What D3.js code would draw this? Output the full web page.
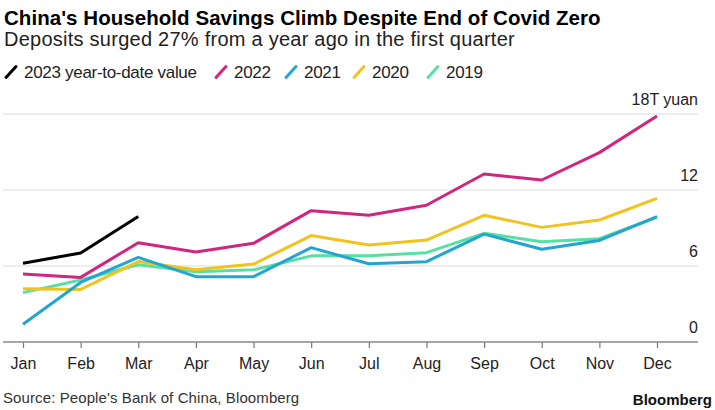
<!DOCTYPE html>
<html><head><meta charset="utf-8">
<script src="https://cdn.jsdelivr.net/npm/d3@7"></script>
<style>
body{margin:0;background:#fff;}
svg{display:block;font-family:"Liberation Sans",Arial,sans-serif;}
</style></head>
<body>
<svg id="c" width="715" height="410"></svg>
<script>
const months = ["Jan","Feb","Mar","Apr","May","Jun","Jul","Aug","Sep","Oct","Nov","Dec"];
const yTicks = [0, 6, 12, 18];
const yTickLabels = ["0", "6", "12", "18T yuan"];
const v2019 = [3.9, 4.9, 6.1, 5.55, 5.7, 6.8, 6.8, 7.05, 8.58, 7.92, 8.15, 9.85];
const v2020 = [4.2, 4.15, 6.35, 5.7, 6.15, 8.4, 7.66, 8.05, 10.0, 9.05, 9.63, 11.34];
const v2021 = [1.4, 4.7, 6.68, 5.16, 5.16, 7.45, 6.18, 6.34, 8.52, 7.32, 8.02, 9.89];
const v2022 = [5.37, 5.1, 7.84, 7.1, 7.79, 10.37, 10.0, 10.8, 13.26, 12.79, 14.95, 17.84];
const v2023 = [6.21, 7.03, 9.9];
const seriesNames = ["2023 year-to-date value", "2022", "2021", "2020", "2019"];
const seriesColors = ["#000000", "#d0267f", "#22a6d0", "#f1c31f", "#58e0a2"];

const svg = d3.select("#c");
const x = d3.scalePoint().domain(months).range([23, 657]);
const y = d3.scaleLinear().domain([0, 18]).range([342, 114]);

// title & subtitle
svg.append("text").attr("x", 4).attr("y", 25).attr("font-size", 20.5).attr("font-weight", "bold")
  .attr("fill", "#000").attr("letter-spacing", 0.05)
  .text("China's Household Savings Climb Despite End of Covid Zero");
svg.append("text").attr("x", 4).attr("y", 46).attr("font-size", 20).attr("fill", "#222")
  .attr("letter-spacing", 0.25)
  .text("Deposits surged 27% from a year ago in the first quarter");

// legend
const legendX = [5, 215, 285, 353, 427];
seriesNames.forEach((n, i) => {
  const g = svg.append("g").attr("transform", `translate(${legendX[i]},72)`);
  g.append("line").attr("x1", 1).attr("y1", 5.5).attr("x2", 11).attr("y2", -5.5)
    .attr("stroke", seriesColors[i]).attr("stroke-width", 3).attr("stroke-linecap", "round");
  g.append("text").attr("x", 19).attr("y", 6).attr("font-size", 17).attr("fill", "#222")
    .attr("letter-spacing", -0.3).text(n);
});

// gridlines
svg.append("g").selectAll("line").data(yTicks.filter(d => d > 0)).join("line")
  .attr("x1", 3).attr("x2", 698).attr("y1", d => y(d)).attr("y2", d => y(d))
  .attr("stroke", "#dcdcdc").attr("stroke-width", 1);

// y labels
svg.append("g").selectAll("text").data(yTicks).join("text")
  .attr("x", 698).attr("y", d => y(d) - 9).attr("text-anchor", "end")
  .attr("font-size", 16).attr("fill", "#222")
  .text((d, i) => yTickLabels[i]);

// x axis
const xAxis = d3.axisBottom(x).tickSize(6).tickPadding(10);
const ax = svg.append("g").attr("transform", `translate(0,${y(0)})`).call(xAxis);
ax.select(".domain").remove();
ax.selectAll(".tick line").attr("stroke", "#777").attr("stroke-width", 1.2);
ax.selectAll(".tick text").attr("font-size", 16).attr("fill", "#222")
  .attr("font-family", "Liberation Sans, Arial, sans-serif");
svg.append("line").attr("x1", 3).attr("x2", 698).attr("y1", y(0)).attr("y2", y(0))
  .attr("stroke", "#888").attr("stroke-width", 1.5);

// lines
const line = d3.line().x((d, i) => x(months[i])).y(d => y(d));
const drawOrder = [[v2019, 4], [v2020, 3], [v2021, 2], [v2022, 1], [v2023, 0]];
drawOrder.forEach(([vals, ci]) => {
  svg.append("path").datum(vals).attr("d", line).attr("fill", "none")
    .attr("stroke", seriesColors[ci]).attr("stroke-width", 3)
    .attr("stroke-linejoin", "round");
});

// footer
svg.append("text").attr("x", 3).attr("y", 403).attr("font-size", 15).attr("fill", "#333")
  .attr("letter-spacing", 0.1).text("Source: People's Bank of China, Bloomberg");
svg.append("text").attr("x", 712).attr("y", 405).attr("font-size", 15).attr("font-weight", "bold")
  .attr("text-anchor", "end").attr("fill", "#111").text("Bloomberg");
</script>
</body></html>
